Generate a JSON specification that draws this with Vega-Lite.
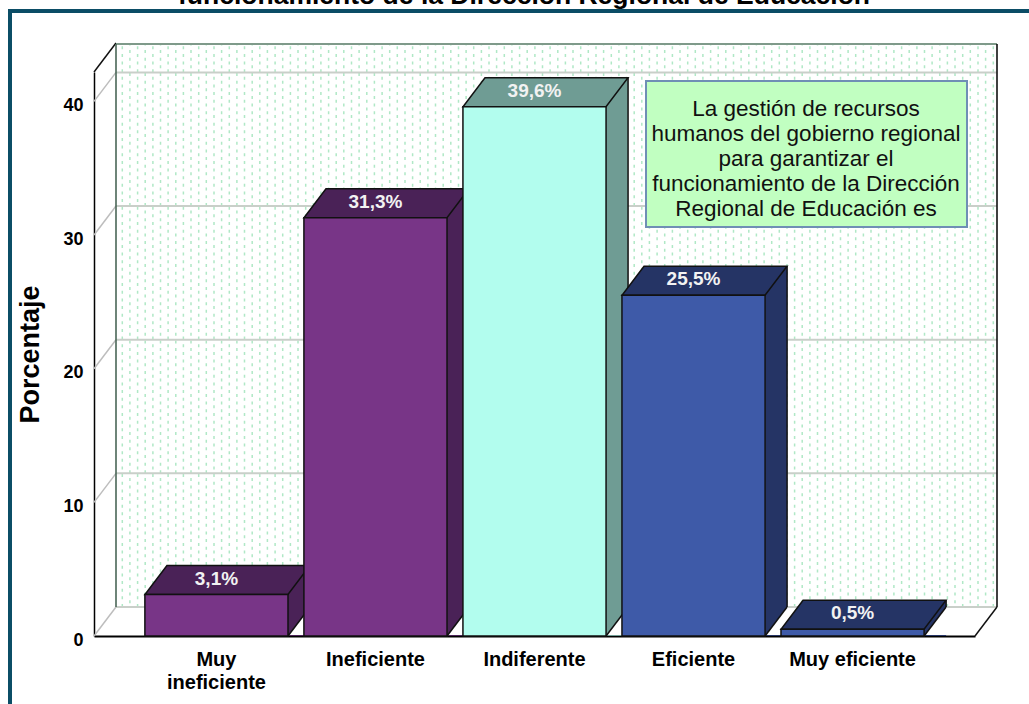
{
"$schema":"https://vega.github.io/schema/vega-lite/v6.json",
"width":881,"height":564,"autosize":"none",
"padding":{"left":94,"top":72,"right":54,"bottom":68},
"background":"#ffffff",
"view":{"stroke":null},
"datasets":{
"bars":[
{"categoria":"Muy ineficiente","porcentaje":3.1,"etiqueta":"3,1%"},
{"categoria":"Ineficiente","porcentaje":31.3,"etiqueta":"31,3%"},
{"categoria":"Indiferente","porcentaje":39.6,"etiqueta":"39,6%"},
{"categoria":"Eficiente","porcentaje":25.5,"etiqueta":"25,5%"},
{"categoria":"Muy eficiente","porcentaje":0.5,"etiqueta":"0,5%"}],
"ticks":[{"t":0},{"t":10},{"t":20},{"t":30},{"t":40}]
},
"resolve":{"scale":{"fill":"independent","stroke":"independent"}},
"encoding":{},
"layer":[
{"data":{"name":"bars"},"mark":{"type":"rule","opacity":0},
 "encoding":{
 "x":{"field":"categoria","type":"nominal","sort":null,"scale":{"paddingInner":0.1,"paddingOuter":0.32},
  "axis":{"title":null,"labelAngle":0,"ticks":false,"domainColor":"#000000","domainWidth":2,"labelFont":"Liberation Sans","labelFontSize":20,"labelFontWeight":"bold","labelColor":"#000000","labelPadding":13,"labelBaseline":"top","labelLineHeight":23,"labelExpr":"datum.value == 'Muy ineficiente' ? ['Muy','ineficiente'] : datum.value"}},
 "y":{"field":"porcentaje","type":"quantitative","scale":{"domain":[0,42.2],"nice":false},
  "axis":{"title":"Porcentaje","titleFont":"Liberation Sans","titleFontWeight":"bold","titleFontSize":27,"titleColor":"#000000","titleX":-50,"titleY":282,"values":[0,10,20,30,40],"grid":false,"ticks":false,"domainColor":"#000000","domainWidth":1.5,"labelFont":"Liberation Sans","labelFontSize":18,"labelFontWeight":"bold","labelColor":"#000000","labelPadding":11,"labelOffset":4}}}},
{"data":{"values":[{}]},"mark":{"type":"rect","fill":"#ffffff","fillOpacity":0,"stroke":"#0b4d66","strokeWidth":4},
 "encoding":{"x":{"value":-84},"x2":{"value":960},"y":{"value":-61},"y2":{"value":660}}},
{"data":{"values":[{}]},"mark":{"type":"text","font":"Liberation Sans","fontWeight":"bold","fontSize":26.5,"color":"#000000","align":"center","baseline":"alphabetic"},
 "encoding":{"x":{"value":430},"y":{"value":-68},"text":{"value":"funcionamiento de la Dirección Regional de Educación"}}},
{"data":{"values":[{}]},"mark":{"type":"point","filled":false,"opacity":1,"size":4,"stroke":"#b0e8c6","strokeWidth":1.5,"strokeDash":[3,4.64],
 "shape":"M6.3,0V-562M21.6,0V-562M36.9,0V-562M52.1,0V-562M67.4,0V-562M82.7,0V-562M98,0V-562M113.3,0V-562M128.5,0V-562M143.8,0V-562M159.1,0V-562M174.4,0V-562M189.7,0V-562M204.9,0V-562M220.2,0V-562M235.5,0V-562M250.8,0V-562M266.1,0V-562M281.3,0V-562M296.6,0V-562M311.9,0V-562M327.2,0V-562M342.5,0V-562M357.7,0V-562M373,0V-562M388.3,0V-562M403.6,0V-562M418.9,0V-562M434.1,0V-562M449.4,0V-562M464.7,0V-562M480,0V-562M495.3,0V-562M510.5,0V-562M525.8,0V-562M541.1,0V-562M556.4,0V-562M571.7,0V-562M586.9,0V-562M602.2,0V-562M617.5,0V-562M632.8,0V-562M648.1,0V-562M663.3,0V-562M678.6,0V-562M693.9,0V-562M709.2,0V-562M724.5,0V-562M739.7,0V-562M755,0V-562M770.3,0V-562M785.6,0V-562M800.9,0V-562M816.1,0V-562M831.4,0V-562M846.7,0V-562M862,0V-562M877.3,0V-562"},
 "encoding":{"x":{"value":22},"y":{"value":535}}},
{"data":{"values":[{}]},"mark":{"type":"point","filled":false,"opacity":1,"size":4,"stroke":"#b0e8c6","strokeWidth":1.5,"strokeDash":[3,4.64],"strokeDashOffset":3.8,
 "shape":"M13.9,0V-562M29.2,0V-562M44.5,0V-562M59.8,0V-562M75,0V-562M90.3,0V-562M105.6,0V-562M120.9,0V-562M136.2,0V-562M151.4,0V-562M166.7,0V-562M182,0V-562M197.3,0V-562M212.6,0V-562M227.8,0V-562M243.1,0V-562M258.4,0V-562M273.7,0V-562M289,0V-562M304.2,0V-562M319.5,0V-562M334.8,0V-562M350.1,0V-562M365.4,0V-562M380.6,0V-562M395.9,0V-562M411.2,0V-562M426.5,0V-562M441.8,0V-562M457,0V-562M472.3,0V-562M487.6,0V-562M502.9,0V-562M518.2,0V-562M533.4,0V-562M548.7,0V-562M564,0V-562M579.3,0V-562M594.6,0V-562M609.8,0V-562M625.1,0V-562M640.4,0V-562M655.7,0V-562M671,0V-562M686.2,0V-562M701.5,0V-562M716.8,0V-562M732.1,0V-562M747.4,0V-562M762.6,0V-562M777.9,0V-562M793.2,0V-562M808.5,0V-562M823.8,0V-562M839,0V-562M854.3,0V-562M869.6,0V-562"},
 "encoding":{"x":{"value":22},"y":{"value":535}}},
{"data":{"name":"ticks"},"mark":{"type":"rule","stroke":"#c9cfc9","strokeWidth":2,"yOffset":-29},
 "encoding":{"x":{"value":22},"x2":{"value":903},"y":{"field":"t","type":"quantitative"}}},
{"data":{"name":"ticks"},"mark":{"type":"point","filled":false,"opacity":1,"size":4,"stroke":"#bdbdbd","strokeWidth":1.5,"shape":"M0,0L22,-29"},
 "encoding":{"x":{"value":0},"y":{"field":"t","type":"quantitative"}}},
{"data":{"values":[{}]},"mark":{"type":"point","filled":false,"opacity":1,"size":4,"stroke":"#111111","strokeWidth":1.5,"shape":"M0,0L22,-29"},
 "encoding":{"x":{"value":0},"y":{"value":0}}},
{"data":{"values":[{}]},"mark":{"type":"point","filled":false,"opacity":1,"size":4,"stroke":"#111111","strokeWidth":1.5,"shape":"M0,0L22,-29"},
 "encoding":{"x":{"value":881},"y":{"value":564}}},
{"data":{"values":[{}]},"mark":{"type":"rule","stroke":"#7f9a8a","strokeWidth":2},
 "encoding":{"x":{"value":22},"x2":{"value":903},"y":{"value":-28}}},
{"data":{"values":[{}]},"mark":{"type":"rule","stroke":"#4a6657","strokeWidth":1.6},
 "encoding":{"x":{"value":22},"y":{"value":-28},"y2":{"value":535}}},
{"data":{"values":[{}]},"mark":{"type":"rule","stroke":"#111111","strokeWidth":1.6},
 "encoding":{"x":{"value":903},"y":{"value":-28},"y2":{"value":535}}},
{"data":{"values":[{}]},"mark":{"type":"rect","fill":"#c1ffc1","stroke":"#6f8fb5","strokeWidth":2},
 "encoding":{"x":{"value":552},"x2":{"value":873},"y":{"value":9},"y2":{"value":155}}},
{"data":{"values":[{}]},"mark":{"type":"text","font":"Liberation Sans","fontSize":22.5,"color":"#111111","align":"center","baseline":"top","lineHeight":25},
 "encoding":{"x":{"value":712},"y":{"value":26},"text":{"value":["La gestión de recursos","humanos del gobierno regional","para garantizar el","funcionamiento de la Dirección","Regional de Educación es"]}}},
{"data":{"name":"bars"},"mark":{"type":"rule","strokeWidth":22,"xOffset":11,"yOffset":-29},
 "encoding":{
 "x":{"field":"categoria","type":"nominal","sort":null,"bandPosition":1},
 "y":{"field":"porcentaje","type":"quantitative"},
 "y2":{"datum":0},
 "stroke":{"field":"categoria","type":"nominal","legend":null,"sort":null,"scale":{"domain":["Muy ineficiente","Ineficiente","Indiferente","Eficiente","Muy eficiente"],"range":["#4a2257","#4a2257","#6f9c94","#253465","#253465"]}}}},
{"data":{"name":"bars"},"mark":{"type":"rule","stroke":"#111111","strokeWidth":1.5,"xOffset":22,"yOffset":-29,"y2Offset":-29},
 "encoding":{
 "x":{"field":"categoria","type":"nominal","sort":null,"bandPosition":1},
 "y":{"field":"porcentaje","type":"quantitative"},
 "y2":{"datum":0}}},
{"data":{"name":"bars"},"mark":{"type":"point","filled":true,"opacity":1,"size":4,"fill":"#ffffff","stroke":null,"shape":"M0,0L22,-29L23,-29L23,-1L0,-1Z"},
 "encoding":{
 "x":{"field":"categoria","type":"nominal","sort":null,"bandPosition":1},
 "y":{"datum":0,"type":"quantitative"}}},
{"data":{"name":"bars"},"mark":{"type":"point","filled":false,"opacity":1,"size":4,"stroke":"#111111","strokeWidth":1.5,"shape":"M0,0L22,-29"},
 "encoding":{
 "x":{"field":"categoria","type":"nominal","sort":null,"bandPosition":1},
 "y":{"datum":0,"type":"quantitative"}}},
{"data":{"name":"bars"},"mark":{"type":"point","filled":true,"opacity":1,"size":4,"stroke":"#111111","strokeWidth":1.5,"shape":"M-71.5,0L71.5,0L93.5,-29L-49.5,-29Z"},
 "encoding":{
 "x":{"field":"categoria","type":"nominal","sort":null},
 "y":{"field":"porcentaje","type":"quantitative"},
 "fill":{"field":"categoria","type":"nominal","legend":null,"sort":null,"scale":{"domain":["Muy ineficiente","Ineficiente","Indiferente","Eficiente","Muy eficiente"],"range":["#4a2257","#4a2257","#6f9c94","#253465","#253465"]}}}},
{"data":{"name":"bars"},"mark":{"type":"bar","stroke":"#111111","strokeWidth":1.5},
 "encoding":{
 "x":{"field":"categoria","type":"nominal","sort":null},
 "y":{"field":"porcentaje","type":"quantitative"},
 "fill":{"field":"categoria","type":"nominal","legend":null,"sort":null,"scale":{"domain":["Muy ineficiente","Ineficiente","Indiferente","Eficiente","Muy eficiente"],"range":["#783587","#783587","#b2fdee","#3e5aa8","#3e5aa8"]}}}},
{"data":{"name":"bars"},"mark":{"type":"text","font":"Liberation Sans","fontWeight":"bold","fontSize":19,"color":"#f2f2f2","align":"center","baseline":"middle","yOffset":-16},
 "encoding":{
 "x":{"field":"categoria","type":"nominal","sort":null},
 "y":{"field":"porcentaje","type":"quantitative"},
 "text":{"field":"etiqueta","type":"nominal"}}}
]}
